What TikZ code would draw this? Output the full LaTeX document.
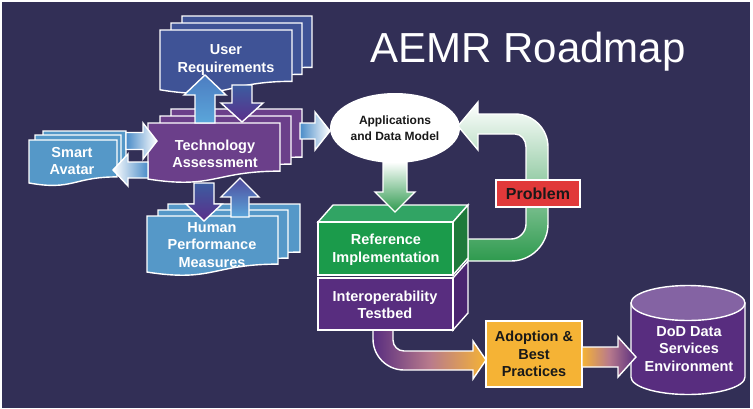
\documentclass[tikz,border=0pt]{standalone}
\usepackage{fontspec}
\setmainfont{Liberation Sans}
\usetikzlibrary{calc,shapes.geometric}
\definecolor{bgc}{HTML}{322F56}
\definecolor{urblue}{HTML}{3F5396}
\definecolor{tapurple}{HTML}{6B3F8A}
\definecolor{ltblue}{HTML}{5598C8}
\definecolor{grnfront}{HTML}{1B9B4B}
\definecolor{grntop}{HTML}{31A464}
\definecolor{grnside}{HTML}{1E7A3B}
\definecolor{tbfront}{HTML}{582D7F}
\definecolor{tbside}{HTML}{4A2570}
\definecolor{probred}{HTML}{E1393A}
\definecolor{adorange}{HTML}{F5B335}
\definecolor{dodtop}{HTML}{8463A3}
\definecolor{pinkmid}{HTML}{B87A8C}
\definecolor{arrblue}{HTML}{4A8CC8}
\definecolor{arrgreen}{HTML}{2E9A4E}
\definecolor{upblue}{HTML}{4C7DC2}
\definecolor{uplight}{HTML}{5BA6DA}
\definecolor{dnblue}{HTML}{3C5CA0}
\definecolor{dnpurple}{HTML}{5B2F8A}
\definecolor{uppurple}{HTML}{4F4C9E}
\tikzset{
 outl/.style={draw=white, line width=1.4pt, line join=miter},
 lbl/.style={font=\bfseries\fontsize{14.5}{17.5}\selectfont, text=white, align=center, inner sep=0pt},
 dlbl/.style={font=\bfseries\fontsize{14.5}{17.5}\selectfont, text=black!90, align=center, inner sep=0pt},
}
% document shape: fill, x1, y1, x2, y2 (y downwards)
\newcommand\docsh[5]{\path[outl, fill=#1] (#2,#3) -- (#4,#3) -- (#4,{#3+0.802*(#5-#3)}) .. controls ({(#2+#4)/2},{#3+0.802*(#5-#3)}) and ({(#2+#4)/2},{#3+1.107*(#5-#3)}) .. (#2,{#3+0.934*(#5-#3)}) -- cycle;}
% block arrow: shading, start, tip, half shaft, half head, head length
\newcommand\barrow[6]{%
 \coordinate (hb) at ($(#3)!#6pt!(#2)$);
 \path[outl,#1] ($(#2)!#4pt!90:(#3)$) -- ($(hb)!#4pt!90:(#3)$) -- ($(hb)!#5pt!90:(#3)$) -- (#3) -- ($(hb)!#5pt!-90:(#3)$) -- ($(hb)!#4pt!-90:(#3)$) -- ($(#2)!#4pt!-90:(#3)$) -- cycle;}
\begin{document}
\begin{tikzpicture}[x=1pt,y=-1pt]
\useasboundingbox (0,0) rectangle (753,408);
\fill[white] (0,0) rectangle (753,408);
\fill[bgc] (2,2) rectangle (750,408);
\node[font=\fontsize{42}{50}\selectfont, text=white, anchor=base, inner sep=0pt] (title) at (528,62) {AEMR Roadmap};

% User Requirements
\docsh{urblue}{182}{16}{312}{80}
\docsh{urblue}{171}{23}{302}{87}
\docsh{urblue}{160}{30}{292}{94}
\node[lbl] (ur) at (226,60) {User\\Requirements};

% Technology Assessment
\docsh{tapurple}{171}{109}{302}{169}
\docsh{tapurple}{160}{116}{291}{176}
\docsh{tapurple}{148}{123}{280}{183}
\node[lbl] (ta) at (215,154) {Technology\\Assessment};

% Smart Avatar
\docsh{ltblue}{43}{131}{126}{177}
\docsh{ltblue}{35}{135}{121}{181}
\docsh{ltblue}{29}{140}{117}{186}
\node[lbl] (sa) at (72,161) {Smart\\Avatar};

% Human Performance Measures
\docsh{ltblue}{168}{204}{300}{264}
\docsh{ltblue}{158}{210}{288}{270}
\docsh{ltblue}{147}{216}{278}{276}
\node[lbl] (hp) at (212,245) {Human\\Performance\\Measures};

% Applications ellipse
\node[ellipse, fill=white, minimum width=130pt, minimum height=70pt, inner sep=0pt,
  font=\bfseries\fontsize{12}{16}\selectfont, align=center, text=black!90] (app) at (395,128) {Applications\\and Data Model};

% green loop arrow (behind the box)
\path[outl, top color=white, bottom color=arrgreen]
 (458,126) -- (478,102) -- (478,114) -- (515,114)
 .. controls (533.2,114) and (548,128.8) .. (548,147) -- (548,224)
 .. controls (548,244.4) and (531.4,261) .. (511,261) -- (468,261) -- (468,239) -- (511,239)
 .. controls (519.3,239) and (526,232.3) .. (526,224) -- (526,147)
 .. controls (526,139.8) and (521.1,134) .. (515,134) -- (478,134) -- (478,150) -- cycle;

% purple to orange arrow
\path[outl, left color=tbfront, right color=adorange, middle color=pinkmid]
 (373,330) -- (373,339) .. controls (373,356.1) and (386.9,370) .. (404,370) -- (473,370) -- (473,379) -- (486,360) -- (473,341) -- (473,351) -- (404,351)
 .. controls (397.9,351) and (393,346.1) .. (393,340) -- (393,330) -- cycle;

% Interoperability Testbed box
\path[outl, fill=tbside] (453,278) -- (468,261) -- (468,313) -- (453,330) -- cycle;
\path[outl, fill=tbfront] (318,278) rectangle (453,330);
\node[lbl] (tb) at (385,305) {Interoperability\\Testbed};

% Reference Implementation box
\path[outl, fill=grntop] (318,222) -- (333,205) -- (468,205) -- (453,222) -- cycle;
\path[outl, fill=grnside] (453,222) -- (468,205) -- (468,258) -- (453,275) -- cycle;
\path[outl, fill=grnfront] (318,222) rectangle (453,275);
\node[lbl] (ref) at (386,249.5) {Reference\\Implementation};

% Problem
\node[draw=white, line width=1.4pt, fill=probred, minimum width=84pt, minimum height=27pt, inner sep=0pt,
  font=\bfseries\fontsize{16}{18}\selectfont, text=black!90] (prob) at (538,193.5) {Problem};

% Adoption & Best Practices
\node[draw=white, line width=1.4pt, fill=adorange, minimum width=96pt, minimum height=66pt, inner sep=0pt,
  dlbl] (adopt) at (534,354) {Adoption \&\\Best\\Practices};

% DoD cylinder
\path[outl, fill=tbfront] (631,303) -- (631,377) arc[start angle=180, end angle=0, x radius=57, y radius=17.5] -- (745,303) -- cycle;
\path[outl, fill=dodtop] (688,303) ellipse[x radius=57, y radius=17.5];
\node[lbl] (dod) at (689,349) {DoD Data\\Services\\Environment};

% block arrows
\coordinate (a1s) at (205,123); \coordinate (a1e) at (205,75);
\barrow{top color=upblue, bottom color=uplight}{a1s}{a1e}{10}{21}{20}
\coordinate (a2s) at (242,85); \coordinate (a2e) at (242,122);
\barrow{top color=dnblue, bottom color=dnpurple}{a2s}{a2e}{10}{21}{19}
\coordinate (a3s) at (126,141); \coordinate (a3e) at (157,141);
\barrow{left color=arrblue, right color=white}{a3s}{a3e}{8.5}{18}{14}
\coordinate (a4s) at (148,170); \coordinate (a4e) at (113,170);
\barrow{left color=white, right color=arrblue}{a4s}{a4e}{8}{16}{15}
\coordinate (a5s) at (204,183); \coordinate (a5e) at (204,221);
\barrow{top color=dnblue, bottom color=dnpurple}{a5s}{a5e}{10}{18}{17}
\coordinate (a6s) at (240,217); \coordinate (a6e) at (240,178);
\barrow{top color=uppurple, bottom color=uplight}{a6s}{a6e}{9}{19}{19}
\coordinate (a7s) at (300,131); \coordinate (a7e) at (330,131);
\barrow{left color=arrblue, right color=white}{a7s}{a7e}{8}{19}{15}
\coordinate (a8s) at (395,162); \coordinate (a8e) at (395,212);
\barrow{top color=white, bottom color=arrgreen}{a8s}{a8e}{12}{20}{20}
\coordinate (a9s) at (582,357); \coordinate (a9e) at (636,357);
\barrow{left color=adorange, right color=tbfront, middle color=pinkmid}{a9s}{a9e}{10}{20}{18}
\end{tikzpicture}
\end{document}
